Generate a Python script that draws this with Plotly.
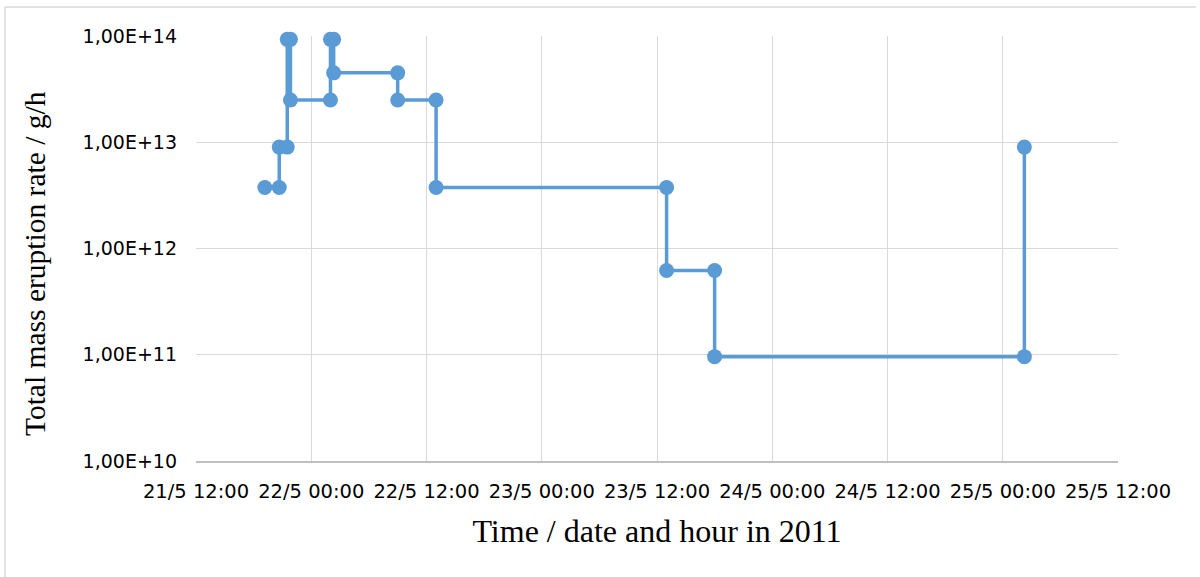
import plotly.graph_objects as go

# Step-wise total mass eruption rate (g/h), Grímsvötn May 2011
times = [
    "2011-05-21 19:10", "2011-05-21 20:40", "2011-05-21 20:40", "2011-05-21 21:30",
    "2011-05-21 21:30", "2011-05-21 21:50", "2011-05-21 21:50", "2011-05-22 02:00",
    "2011-05-22 02:00", "2011-05-22 02:20", "2011-05-22 02:20", "2011-05-22 09:00",
    "2011-05-22 09:00", "2011-05-22 13:00", "2011-05-22 13:00", "2011-05-23 13:00",
    "2011-05-23 13:00", "2011-05-23 18:00", "2011-05-23 18:00", "2011-05-25 02:15",
    "2011-05-25 02:15",
]
rates = [
    3.75e12, 3.75e12, 9.0e12, 9.0e12,
    9.3e13, 9.3e13, 2.5e13, 2.5e13,
    9.3e13, 9.3e13, 4.5e13, 4.5e13,
    2.5e13, 2.5e13, 3.75e12, 3.75e12,
    6.2e11, 6.2e11, 9.6e10, 9.6e10,
    9.0e12,
]

y_tickvals = [1e10, 1e11, 1e12, 1e13, 1e14]
y_ticktext = ["1,00E+10", "1,00E+11", "1,00E+12", "1,00E+13", "1,00E+14"]
x_range = ["2011-05-21 12:00", "2011-05-25 12:00"]

blue = "#5B9BD5"
grid = "#D9D9D9"

fig = go.Figure(
    go.Scatter(
        x=times, y=rates, mode="lines+markers",
        line=dict(color=blue, width=3.5),
        marker=dict(color=blue, size=15),
        cliponaxis=False,
        showlegend=False,
    )
)

fig.update_xaxes(
    type="date", range=x_range, dtick=12 * 3600 * 1000,
    tick0="2011-05-21 12:00", tickformat="%-d/%-m %H:%M",
    showgrid=True, gridcolor=grid, gridwidth=1,
    showline=True, linecolor="#BFBFBF", linewidth=1.5,
    ticks="", tickfont=dict(family="DejaVu Sans", size=19.5, color="#000000"),
    ticklabelstandoff=12,
    title=dict(text="Time / date and hour in 2011",
               font=dict(family="Liberation Serif", size=32, color="#000000"), standoff=17),
    zeroline=False,
)
fig.update_yaxes(
    type="log", range=[10, 14], tickvals=y_tickvals, ticktext=y_ticktext,
    showgrid=True, gridcolor=grid, gridwidth=1,
    showline=False, ticks="", tickfont=dict(family="DejaVu Sans", size=19, color="#000000"),
    ticklabelstandoff=18,
    zeroline=False,
)

# vertical y-axis title placed left of the tick labels
fig.add_annotation(
    text="Total mass eruption rate / g/h", textangle=-90,
    xref="paper", yref="paper", x=-0.1746, y=0.4635,
    xanchor="center", yanchor="middle", showarrow=False,
    font=dict(family="Liberation Serif", size=29.5, color="#000000"),
)

# light frame lines along the top and left of the chart area
for x0, y0, x1, y1 in [(-0.2072, 1.068, 1.0846, 1.068), (-0.2072, 1.068, -0.2072, -0.273)]:
    fig.add_shape(type="line", xref="paper", yref="paper", x0=x0, y0=y0, x1=x1, y1=y1,
                  line=dict(color=grid, width=1.5))

fig.update_layout(
    width=1200, height=577,
    margin=dict(l=196, r=82, t=36, b=116),
    paper_bgcolor="white", plot_bgcolor="white",
)

fig.write_html("out.html")
